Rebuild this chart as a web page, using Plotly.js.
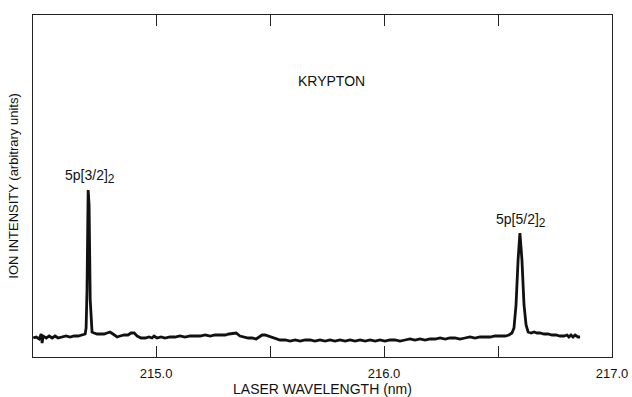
<!DOCTYPE html>
<html>
<head>
<meta charset="utf-8">
<script src="https://cdn.plot.ly/plotly-3.0.1.min.js"></script>
<style>html,body{margin:0;padding:0;background:#fff;}#chart{width:632px;height:397px;}</style>
</head>
<body>
<div id="chart"></div>
<script>
// Laser wavelength (nm)
const wavelength = [214.461,214.474,214.487,214.496,214.500,214.504,214.518,214.531,214.544,214.557,214.570,214.588,214.605,214.623,214.640,214.658,214.675,214.689,214.693,214.697,214.702,214.706,214.711,214.715,214.719,214.728,214.741,214.754,214.772,214.785,214.798,214.811,214.829,214.842,214.860,214.877,214.890,214.904,214.917,214.934,214.952,214.969,214.982,214.991,215.004,215.022,215.039,215.061,215.083,215.105,215.127,215.149,215.171,215.193,215.215,215.237,215.259,215.281,215.303,215.320,215.338,215.351,215.368,215.386,215.404,215.421,215.439,215.452,215.465,215.478,215.491,215.504,215.522,215.544,215.566,215.588,215.610,215.632,215.654,215.675,215.697,215.719,215.741,215.763,215.785,215.807,215.829,215.851,215.873,215.895,215.917,215.939,215.961,215.982,216.004,216.026,216.048,216.070,216.092,216.114,216.136,216.158,216.180,216.202,216.224,216.246,216.268,216.289,216.311,216.333,216.355,216.377,216.399,216.421,216.443,216.465,216.487,216.509,216.531,216.548,216.561,216.570,216.579,216.588,216.596,216.605,216.614,216.623,216.632,216.645,216.658,216.671,216.684,216.702,216.719,216.737,216.754,216.772,216.789,216.803,216.811,216.820,216.829,216.838,216.851,216.860];
// Ion intensity (arbitrary units)
const intensity = [19,20,18,23,14,21,19,21,19,21,19,20,21,20,21,21,22,23,29,67,167,152,57,32,25,24,23,23,23,24,25,23,20,21,22,22,24,24,21,19,19,20,19,21,19,20,19,20,20,21,20,21,21,21,22,21,22,22,22,23,24,24,21,20,19,19,18,20,22,22,21,20,18,17,17,16,17,16,17,17,16,17,16,17,16,17,16,17,16,17,16,17,16,17,16,17,17,16,17,18,17,18,17,18,18,19,18,19,19,18,19,20,19,20,20,20,21,21,21,22,24,29,52,97,124,97,52,32,25,24,25,24,24,23,23,22,22,21,21,22,20,22,20,22,20,20];

const tickVals = [215.0, 215.5, 216.0, 216.5, 217.0];
const tickText = ["215.0", "", "216.0", "", "217.0"];

const labels = [
  {x: 214.711, y: 181, text: "5p[3/2]<sub><span style='font-size:12px'>2</span></sub>"},
  {x: 216.600, y: 137, text: "5p[5/2]<sub><span style='font-size:12px'>2</span></sub>"},
  {x: 215.768, y: 276, text: "KRYPTON"}
];

const fontFam = "Liberation Sans, Arial, Helvetica, sans-serif";

const trace = {
  x: wavelength,
  y: intensity,
  type: "scatter",
  mode: "lines",
  line: {color: "#111", width: 2.8, shape: "linear"},
  hoverinfo: "skip"
};

const layout = {
  width: 632,
  height: 397,
  margin: {l: 33, r: 20, t: 15, b: 40},
  paper_bgcolor: "#fff",
  plot_bgcolor: "#fff",
  showlegend: false,
  font: {family: fontFam, size: 13, color: "#111"},
  xaxis: {
    range: [214.46, 217.0],
    tickmode: "array",
    tickvals: tickVals,
    ticktext: tickText,
    ticks: "inside",
    ticklen: 11,
    tickwidth: 1,
    tickcolor: "#222",
    ticklabelstandoff: 4,
    showline: true,
    linecolor: "#222",
    linewidth: 1.3,
    mirror: "ticks",
    showgrid: false,
    zeroline: false,
    automargin: false,
    tickfont: {family: fontFam, size: 13, color: "#111"},
    title: {text: "LASER WAVELENGTH (nm)", font: {family: fontFam, size: 14, color: "#111"}, standoff: 4}
  },
  yaxis: {
    range: [0, 342],
    showticklabels: false,
    ticks: "",
    showline: true,
    linecolor: "#222",
    linewidth: 1.3,
    mirror: true,
    showgrid: false,
    zeroline: false,
    automargin: false,
    title: {text: "ION INTENSITY (arbitrary units)", font: {family: fontFam, size: 13, color: "#111"}, standoff: 10}
  },
  annotations: labels.map(l => ({
    x: l.x, y: l.y, xref: "x", yref: "y", text: l.text, showarrow: false,
    font: {family: fontFam, size: 14, color: "#111"}
  }))
};

Plotly.newPlot("chart", [trace], layout, {displayModeBar: false, staticPlot: true});
</script>
</body>
</html>
